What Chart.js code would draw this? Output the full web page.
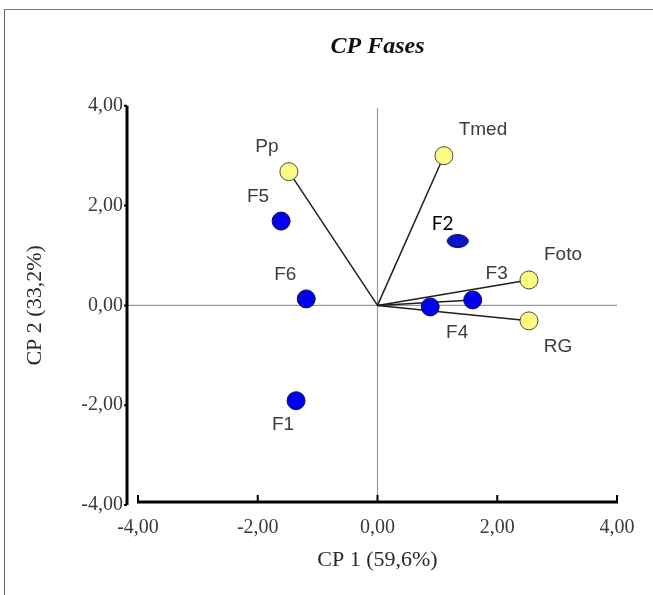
<!DOCTYPE html>
<html>
<head>
<meta charset="utf-8">
<script src="https://cdn.jsdelivr.net/npm/chart.js@4.4.1/dist/chart.umd.min.js"></script>
<style>
  body { margin: 0; background: #fff; }
  #wrap { position: relative; width: 653px; height: 595px; }
  #frame { position: absolute; left: 4px; top: 9px; right: 0; bottom: 0;
           border-left: 1px solid #666; border-top: 1px solid #777; }
  canvas { position: absolute; left: 0; top: 0; }
</style>
</head>
<body>
<div id="wrap">
  <div id="frame"></div>
  <canvas id="chart" width="653" height="595"></canvas>
</div>
<script>
// variables (yellow) and phases (blue), scores on CP1 / CP2
const varNames = ['Pp', 'Tmed', 'Foto', 'RG'];
const varCP1 = [-1.48, 1.11, 2.53, 2.53];
const varCP2 = [2.68, 3.00, 0.51, -0.31];

const phaseNames = ['F1', 'F2', 'F3', 'F4', 'F5', 'F6'];
const phaseCP1 = [-1.36, 1.34, 1.59, 0.88, -1.61, -1.19];
const phaseCP2 = [-1.91, 1.29, 0.11, -0.03, 1.69, 0.13];

const tickValues = [-4, -2, 0, 2, 4];
const vectorTo = ['Pp', 'Tmed', 'Foto', 'RG', 'F3'];

// label placement relative to the marker (px)
const labelOffsets = {
  Pp: [-22, -25], Tmed: [39, -26], Foto: [34, -25], RG: [29, 26],
  F1: [-13, 24], F2: [-15, -17], F3: [24, -26], F4: [27, 26], F5: [-23, -24], F6: [-21, -24]
};

const serif = '"Liberation Serif", "Times New Roman", serif';
const fmt = (v) => Number(v).toFixed(2).replace('.', ',');

// F2 is drawn as an ellipse in the original
const ell = document.createElement('canvas');
ell.width = 24; ell.height = 16;
(function () {
  const c = ell.getContext('2d');
  c.beginPath();
  c.ellipse(12, 8, 10.5, 6.5, 0, 0, Math.PI * 2);
  c.fillStyle = '#0a14c8';
  c.fill();
  c.lineWidth = 1;
  c.strokeStyle = '#000060';
  c.stroke();
})();

const allNames = varNames.concat(phaseNames);
const allX = varCP1.concat(phaseCP1);
const allY = varCP2.concat(phaseCP2);
const lookup = (n) => { const i = allNames.indexOf(n); return { x: allX[i], y: allY[i] }; };

const vectorSets = vectorTo.map((n) => ({
  type: 'scatter',
  showLine: true,
  data: [{ x: 0, y: 0 }, lookup(n)],
  borderColor: '#1e1e1e',
  borderWidth: 1.5,
  pointRadius: 0,
  order: 3
}));

const varSet = {
  label: 'variables',
  data: varNames.map((n, i) => ({ x: varCP1[i], y: varCP2[i], name: n })),
  backgroundColor: '#fbfb80',
  borderColor: '#4a4a4a',
  borderWidth: 1,
  pointRadius: 9,
  order: 1
};

const phaseSet = {
  label: 'fases',
  data: phaseNames.map((n, i) => ({ x: phaseCP1[i], y: phaseCP2[i], name: n })),
  backgroundColor: '#0000ee',
  borderColor: '#10104a',
  borderWidth: 1,
  pointRadius: 9,
  pointStyle: phaseNames.map((n) => (n === 'F2' ? ell : 'circle')),
  order: 1
};

const biplotDecor = {
  id: 'biplotDecor',
  beforeDatasetsDraw(chart) {
    const { ctx, chartArea: a, scales: { x, y } } = chart;
    const x0 = x.getPixelForValue(0), y0 = y.getPixelForValue(0);
    ctx.save();
    ctx.strokeStyle = '#9a9a9a';
    ctx.lineWidth = 1.2;
    ctx.beginPath();
    ctx.moveTo(x0, a.top + 2);
    ctx.lineTo(x0, a.bottom - 3);
    ctx.moveTo(a.left - 11, y0);
    ctx.lineTo(a.right, y0);
    ctx.stroke();
    ctx.restore();
  },
  afterDatasetsDraw(chart) {
    const { ctx, chartArea: a, scales: { x, y } } = chart;
    ctx.save();
    // point labels
    ctx.textAlign = 'center';
    ctx.textBaseline = 'middle';
    chart.data.datasets.forEach((ds) => {
      ds.data.forEach((p) => {
        if (!p.name) return;
        const off = labelOffsets[p.name] || [0, -20];
        const px = x.getPixelForValue(p.x) + off[0];
        const py = y.getPixelForValue(p.y) + off[1];
        if (p.name === 'F2') {
          ctx.font = '19px Lato, "Liberation Sans", sans-serif';
          ctx.fillStyle = '#000';
        } else {
          ctx.font = '19px "Liberation Sans", Arial, sans-serif';
          ctx.fillStyle = '#3c3c3c';
        }
        const w = ctx.measureText(p.name).width;
        ctx.save();
        ctx.fillStyle = '#fff';
        ctx.fillRect(px - w / 2 - 1, py - 8, w + 2, 16);
        ctx.restore();
        ctx.fillText(p.name, px, py);
      });
    });
    // axes, offset from the plot area
    const ax = a.left - 11, ay = a.bottom - 3;
    ctx.strokeStyle = '#000';
    ctx.lineWidth = 3;
    ctx.beginPath();
    ctx.moveTo(ax, y.getPixelForValue(4));
    ctx.lineTo(ax, a.bottom);
    ctx.moveTo(x.getPixelForValue(-4) - 1, ay);
    ctx.lineTo(x.getPixelForValue(4) + 1, ay);
    ctx.stroke();
    ctx.lineWidth = 2;
    ctx.beginPath();
    tickValues.forEach((v) => {
      const ty = y.getPixelForValue(v);
      ctx.moveTo(ax, ty);
      ctx.lineTo(ax - 3, ty);
      const tx = x.getPixelForValue(v);
      ctx.moveTo(tx, ay);
      ctx.lineTo(tx, ay - 7);
    });
    ctx.stroke();
    ctx.restore();
  }
};

new Chart(document.getElementById('chart'), {
  type: 'scatter',
  data: { datasets: [varSet, phaseSet].concat(vectorSets) },
  options: {
    responsive: false,
    animation: false,
    layout: { padding: { top: 0, right: 36, bottom: 0, left: 0 } },
    scales: {
      x: {
        type: 'linear',
        min: -4, max: 4,
        grid: { display: false, drawTicks: false },
        border: { display: false },
        afterFit: (s) => { s.height = 90; },
        afterBuildTicks: (s) => { s.ticks = tickValues.map((v) => ({ value: v })); },
        ticks: {
          callback: fmt,
          padding: 11,
          maxRotation: 0,
          color: '#3a3a3a',
          font: { family: serif, size: 20 }
        },
        title: {
          display: true,
          text: 'CP 1 (59,6%)',
          color: '#2a2a2a',
          padding: { top: 0, bottom: 22 },
          font: { family: serif, size: 22 }
        }
      },
      y: {
        type: 'linear',
        min: -4, max: 4,
        grid: { display: false, drawTicks: false },
        border: { display: false },
        afterFit: (s) => { s.width = 138; },
        afterBuildTicks: (s) => { s.ticks = tickValues.map((v) => ({ value: v })); },
        ticks: {
          callback: fmt,
          padding: 15,
          color: '#3a3a3a',
          font: { family: serif, size: 20 }
        },
        title: {
          display: true,
          text: 'CP 2 (33,2%)',
          color: '#2a2a2a',
          padding: { top: 22, bottom: 0 },
          font: { family: serif, size: 22 }
        }
      }
    },
    plugins: {
      legend: { display: false },
      tooltip: { enabled: false },
      title: {
        display: true,
        fullSize: false,
        text: 'CP Fases',
        color: '#111',
        padding: { top: 32, bottom: 45 },
        font: { family: serif, size: 24, style: 'italic', weight: 'bold' }
      }
    }
  },
  plugins: [biplotDecor]
});
</script>
</body>
</html>
